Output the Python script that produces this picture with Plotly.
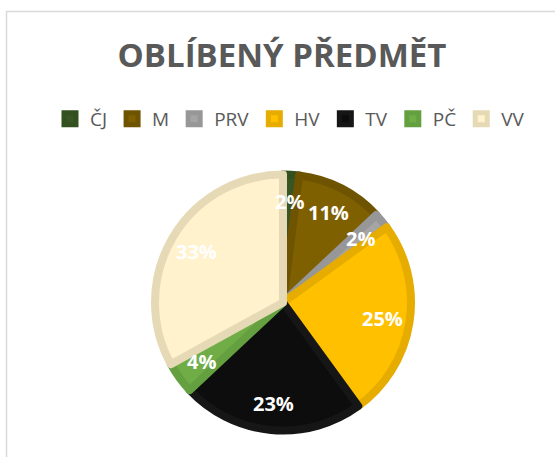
import math
import plotly.graph_objects as go

# Data
subjects = ["ČJ", "M", "PRV", "HV", "TV", "PČ", "VV"]
shares = [2, 11, 2, 25, 23, 4, 33]
fill_colors = ["#375623", "#7F6000", "#A5A5A5", "#FFC000", "#0D0D0D", "#70AD47", "#FFF2CC"]
edge_colors = ["#33501F", "#6E5300", "#979797", "#E6AC00", "#161616", "#65A040", "#E6DAB6"]
chart_title = "OBLÍBENÝ PŘEDMĚT"

W, H = 555, 457
cx, cy, r = 283, 302.5, 128             # pie centre / radius in px (stroke adds 4 px)
label_r = 101                           # distance of the % labels from centre

fig = go.Figure(
    go.Pie(
        labels=subjects,
        values=shares,
        sort=False,
        direction="clockwise",
        rotation=0,
        marker=dict(colors=fill_colors, line=dict(color=edge_colors, width=8)),
        textinfo="none",
        domain=dict(x=[(cx - r) / W, (cx + r) / W], y=[1 - (cy + r) / H, 1 - (cy - r) / H]),
        hoverinfo="label+percent",
    )
)

# percentage labels placed along each slice's bisector (derived from the data)
total = sum(shares)
annotations = []
acc = 0
for lab, v in zip(subjects, shares):
    mid = (acc + v / 2) / total * 2 * math.pi
    acc += v
    px = cx + label_r * math.sin(mid)
    py = cy - label_r * math.cos(mid)
    annotations.append(
        dict(
            x=px / W,
            y=1 - py / H,
            xref="paper",
            yref="paper",
            text=f"{round(v / total * 100)}%",
            showarrow=False,
            xanchor="center",
            yanchor="middle",
            font=dict(color="white", size=20, family="Open Sans", weight="bold"),
        )
    )

fig.update_layout(
    width=W,
    height=H,
    margin=dict(l=0, r=0, t=0, b=0),
    paper_bgcolor="white",
    plot_bgcolor="white",
    font=dict(family="Open Sans", color="#595959"),
    title=dict(
        text=chart_title,
        x=282 / W,
        xanchor="center",
        y=1 - 55 / H,
        yanchor="middle",
        font=dict(size=33, color="#595959", family="Open Sans", weight="bold"),
    ),
    legend=dict(
        orientation="h",
        x=290 / W,
        xanchor="center",
        y=1 - 119 / H,
        yanchor="middle",
        font=dict(size=19, color="#595959"),
        itemwidth=30,
    ),
    annotations=annotations,
    shapes=[
        dict(
            type="rect",
            xref="paper",
            yref="paper",
            x0=6.5 / W,
            x1=1.02,
            y0=-0.02,
            y1=1 - 11.5 / H,
            line=dict(color="#D9D9D9", width=1.5),
            fillcolor="rgba(0,0,0,0)",
            layer="below",
        )
    ],
)

fig.write_html(
    "out.html",
    config={"displayModeBar": False},
    post_script="document.body.style.margin='0';",
)
